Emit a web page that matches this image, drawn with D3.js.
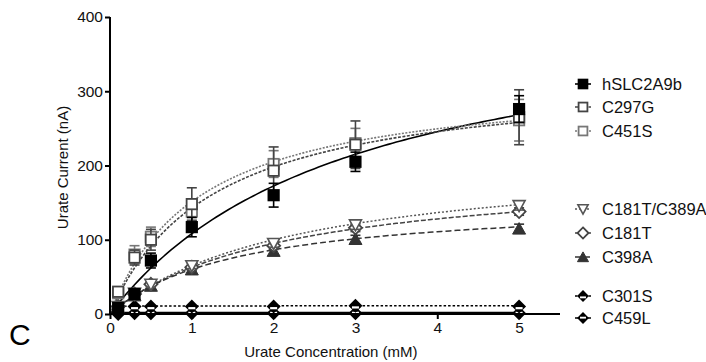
<!DOCTYPE html>
<html>
<head>
<meta charset="utf-8">
<script src="https://cdn.jsdelivr.net/npm/d3@7"></script>
<style>
  body { margin: 0; background: #fff; }
  svg { display: block; font-family: "Liberation Sans", Arial, sans-serif; }
</style>
</head>
<body>
<div id="chart"></div>
<script>
// urate concentrations (mM)
const concentrations = [0.1, 0.3, 0.5, 1, 2, 3, 5];

const seriesNames = ["hSLC2A9b", "C297G", "C451S", "C181T/C389A", "C181T", "C398A", "C301S", "C459L"];

// mean currents (nA), one list per construct
const hSLC2A9bValues = [8, 27, 72, 117, 160, 205, 276];
const c297gValues = [30, 76, 100, 148, 193, 228, 265];
const c451sValues = [28, 80, 104, 138, 202, 230, 261];
const c181tC389aValues = [10, 28, 40, 65, 95, 120, 146];
const c181tValues = [10, 27, 40, 63, 92, 116, 138];
const c398aValues = [8, 25, 38, 60, 85, 101, 115];
const c301sValues = [10, 10, 10, 10, 10, 11, 10];
const c459lValues = [0, 1, 1, 1, 1, 1, 1];

// error bars (SEM, nA)
const hSLC2A9bErr = [3, 5, 10, 13, 16, 13, 18];
const c297gErr = [4, 10, 14, 22, 32, 32, 37];
const c451sErr = [5, 12, 13, 12, 18, 20, 28];
const c181tC389aErr = [2, 3, 4, 4, 5, 6, 6];
const c181tErr = [2, 3, 4, 4, 5, 5, 5];
const c398aErr = [2, 3, 3, 4, 5, 5, 6];
const c301sErr = [1, 1, 1, 1, 1, 1, 1];
const c459lErr = [1, 1, 1, 1, 1, 1, 1];

// Michaelis-Menten fit parameters
const fitVmax = [426, 323, 318, 215, 196, 154, 11, 2];
const fitKm = [2.94, 1.26, 1.1, 2.3, 2.12, 1.56, 0.01, 0.01];

const yTicks = [0, 100, 200, 300, 400];
const xTicks = [0, 1, 2, 3, 4, 5];

const values = [hSLC2A9bValues, c297gValues, c451sValues, c181tC389aValues, c181tValues, c398aValues, c301sValues, c459lValues];
const errors = [hSLC2A9bErr, c297gErr, c451sErr, c181tC389aErr, c181tErr, c398aErr, c301sErr, c459lErr];

const styles = [
  { color: "#000", dash: null, width: 1.6, symbol: "filledSquare" },
  { color: "#444", dash: "3,1.5", width: 1.6, symbol: "openSquare" },
  { color: "#777", dash: "2,1.5", width: 1.6, symbol: "openSquare" },
  { color: "#555", dash: "2,2", width: 1.5, symbol: "openTriangleDown" },
  { color: "#444", dash: "5,2", width: 1.5, symbol: "openDiamond" },
  { color: "#333", dash: "6,3", width: 1.5, symbol: "filledTriangle" },
  { color: "#000", dash: "2.5,2", width: 1.5, symbol: "stripeDiamond" },
  { color: "#000", dash: null, width: 1.5, symbol: "stripeDiamond2" }
];

const legendY = [84, 107, 131, 209, 233, 257, 296, 318];

const W = 706, H = 362;
const margin = { top: 17, left: 110 };
const plotW = 450, plotH = 297;

const svg = d3.select("#chart").append("svg").attr("width", W).attr("height", H);

const x = d3.scaleLinear().domain([0, 5.5]).range([margin.left, margin.left + plotW]);
const y = d3.scaleLinear().domain([0, 400]).range([margin.top + plotH, margin.top]);

function drawSymbol(g, kind, color, k) {
  const s = 5.2 * k;
  if (kind === "filledSquare" || kind === "openSquare") {
    g.append("rect").attr("x", -s).attr("y", -s).attr("width", 2 * s).attr("height", 2 * s)
      .attr("fill", kind === "filledSquare" ? "#000" : "#fff")
      .attr("stroke", color).attr("stroke-width", 1.8);
  } else if (kind === "openTriangleDown") {
    g.append("path").attr("d", `M${-6 * k},${-5 * k}L${6 * k},${-5 * k}L0,${6 * k}Z`).attr("fill", "#fff").attr("stroke", color).attr("stroke-width", 1.6);
  } else if (kind === "filledTriangle") {
    g.append("path").attr("d", `M0,${-6 * k}L${6.5 * k},${5.5 * k}L${-6.5 * k},${5.5 * k}Z`).attr("fill", color).attr("stroke", color).attr("stroke-width", 1);
  } else if (kind === "openDiamond") {
    g.append("path").attr("d", `M0,${-6.5 * k}L${6.5 * k},0L0,${6.5 * k}L${-6.5 * k},0Z`).attr("fill", "#fff").attr("stroke", color).attr("stroke-width", 1.8);
  } else {
    g.append("path").attr("d", `M0,${-7 * k}L${7 * k},0L0,${7 * k}L${-7 * k},0Z`).attr("fill", "#000");
    const yy = kind === "stripeDiamond" ? 0.5 : -1.5;
    g.append("rect").attr("x", -3.5 * k).attr("y", yy * k).attr("width", 7 * k).attr("height", 2.2 * k).attr("fill", "#fff");
  }
}

const line = d3.line().x(d => x(d[0])).y(d => y(d[1]));

// fitted curves
const curveX = d3.range(0, 5.001, 0.05);
values.forEach((vals, i) => {
  const st = styles[i];
  const pts = curveX.map(c => [c, fitVmax[i] * c / (fitKm[i] + c)]);
  svg.append("path")
    .attr("d", line(pts))
    .attr("fill", "none")
    .attr("stroke", st.color)
    .attr("stroke-width", st.width)
    .attr("stroke-dasharray", st.dash);
});

// points with error bars, drawn back to front
const order = [7, 6, 5, 4, 3, 2, 1, 0];
order.forEach(i => {
  const st = styles[i];
  const g = svg.append("g");
  values[i].forEach((v, j) => {
    const cx = x(concentrations[j]);
    const e = errors[i][j];
    const eb = g.append("g").attr("stroke", st.color).attr("stroke-width", 1.6);
    eb.append("line").attr("x1", cx).attr("x2", cx).attr("y1", y(v + e)).attr("y2", y(v - e));
    eb.append("line").attr("x1", cx - 5).attr("x2", cx + 5).attr("y1", y(v + e)).attr("y2", y(v + e));
    eb.append("line").attr("x1", cx - 5).attr("x2", cx + 5).attr("y1", y(v - e)).attr("y2", y(v - e));
    const sg = g.append("g").attr("transform", `translate(${cx},${y(v)})`);
    drawSymbol(sg, st.symbol, st.color, 1);
  });
});

// axes
const yAxis = d3.axisLeft(y).tickValues(yTicks).tickSize(5).tickPadding(2).tickFormat(d3.format("d"));
const xAxis = d3.axisBottom(x).tickValues(xTicks).tickSize(5).tickPadding(3).tickFormat(d3.format("d"));

const gy = svg.append("g").attr("transform", `translate(${margin.left},0)`).call(yAxis);
const gx = svg.append("g").attr("transform", `translate(0,${margin.top + plotH})`).call(xAxis);

[gx, gy].forEach(g => {
  g.select(".domain").attr("stroke", "#000").attr("stroke-width", 2);
  g.selectAll(".tick line").attr("stroke", "#000").attr("stroke-width", 2);
  g.selectAll(".tick text").attr("fill", "#111").style("font-size", "15.5px").style("font-family", "Liberation Sans, Arial, sans-serif");
});
gy.select(".domain").attr("d", `M0,${margin.top}V${margin.top + plotH}`);
gx.select(".domain").attr("d", `M${margin.left},0H${margin.left + plotW}`);

svg.append("text")
  .attr("transform", `translate(68,${margin.top + plotH / 2 + 2}) rotate(-90)`)
  .attr("text-anchor", "middle")
  .style("font-size", "15px")
  .attr("fill", "#111")
  .text("Urate Current (nA)");

svg.append("text")
  .attr("x", x(2.7)).attr("y", 357)
  .attr("text-anchor", "middle")
  .style("font-size", "15px")
  .attr("fill", "#111")
  .text("Urate Concentration (mM)");

svg.append("text")
  .attr("x", 9).attr("y", 345)
  .style("font-size", "30px")
  .attr("fill", "#000")
  .text("C");

// legend
seriesNames.forEach((name, i) => {
  const st = styles[i];
  const g = svg.append("g").attr("transform", `translate(583,${legendY[i]})`);
  g.append("line").attr("x1", -8).attr("x2", 8)
    .attr("stroke", st.color).attr("stroke-width", st.width)
    .attr("stroke-dasharray", st.dash);
  drawSymbol(g.append("g"), st.symbol, st.color, 0.85);
  g.append("text").attr("x", 19).attr("dy", "0.35em")
    .style("font-size", "16.5px").attr("fill", "#111")
    .text(name);
});
</script>
</body>
</html>
